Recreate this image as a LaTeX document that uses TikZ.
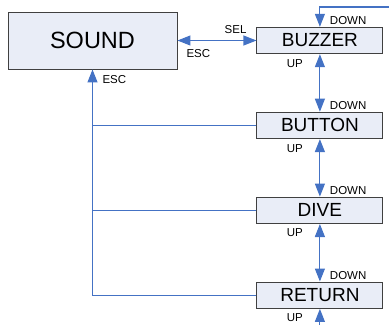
\documentclass[tikz,border=0pt]{standalone}
\usepackage{fontspec}
\setmainfont{Liberation Sans}
\usepackage{xcolor}
\usetikzlibrary{arrows.meta,positioning}

\definecolor{linkblue}{HTML}{4472C4}
\definecolor{boxfill}{HTML}{E9EDF7}
\definecolor{boxline}{HTML}{404040}

\begin{document}
\begin{tikzpicture}[
  x=1pt, y=1pt,
  menubox/.style={draw=boxline,line width=0.9pt,fill=boxfill,inner sep=0pt},
  itembox/.style={menubox,minimum width=126pt,minimum height=26.5pt,
                  font=\fontsize{19}{22}\selectfont},
  link/.style={draw=linkblue,line width=1.1pt,>={Triangle[length=13pt,width=10pt]}},
  lbl/.style={font=\fontsize{11.5}{12}\selectfont,inner sep=0.5pt}
]
\useasboundingbox (0,0) rectangle (389,-325);

\node[menubox,minimum width=169pt,minimum height=57pt,
      font=\fontsize{23.5}{26}\selectfont] (sound) at (92.5,-40.5) {SOUND};
\node[itembox,right=79pt of sound] (buzzer) {BUZZER};
\node[itembox,below=57.5pt of buzzer] (button) {BUTTON};
\node[itembox,below=57.5pt of button] (dive) {DIVE};
\node[itembox,below=57.5pt of dive] (return) {RETURN};

\coordinate (topin) at (389,-7);
\coordinate (botin) at (buzzer.center |- 0,-325);

% select / escape
\draw[link,<->] (sound) -- (buzzer)
  node[lbl,pos=1,anchor=south east,xshift=-9pt,yshift=6pt] {SEL}
  node[lbl,pos=0,anchor=north west,xshift=8pt,yshift=-8pt] {ESC};

% up / down between items
\draw[link,->] (topin) -| (buzzer)
  node[lbl,pos=1,anchor=south west,xshift=9pt,yshift=1pt] {DOWN};
\foreach \a/\b in {buzzer/button,button/dive,dive/return}
  \draw[link,<->] (\a) -- (\b)
    node[lbl,pos=0,anchor=north east,xshift=-16pt,yshift=-4pt] {UP}
    node[lbl,pos=1,anchor=south west,xshift=9pt,yshift=1pt] {DOWN};
\draw[link,->] (botin) -- (return)
  node[lbl,pos=1,anchor=north east,xshift=-16pt,yshift=-4pt] {UP};

% escape back to sound
\draw[link,->] (return) -| (sound)
  node[lbl,pos=1,anchor=north west,xshift=9pt,yshift=-5pt] {ESC};
\draw[link] (button.west) -- (button.west -| sound.south);
\draw[link] (dive.west) -- (dive.west -| sound.south);
\end{tikzpicture}
\end{document}
